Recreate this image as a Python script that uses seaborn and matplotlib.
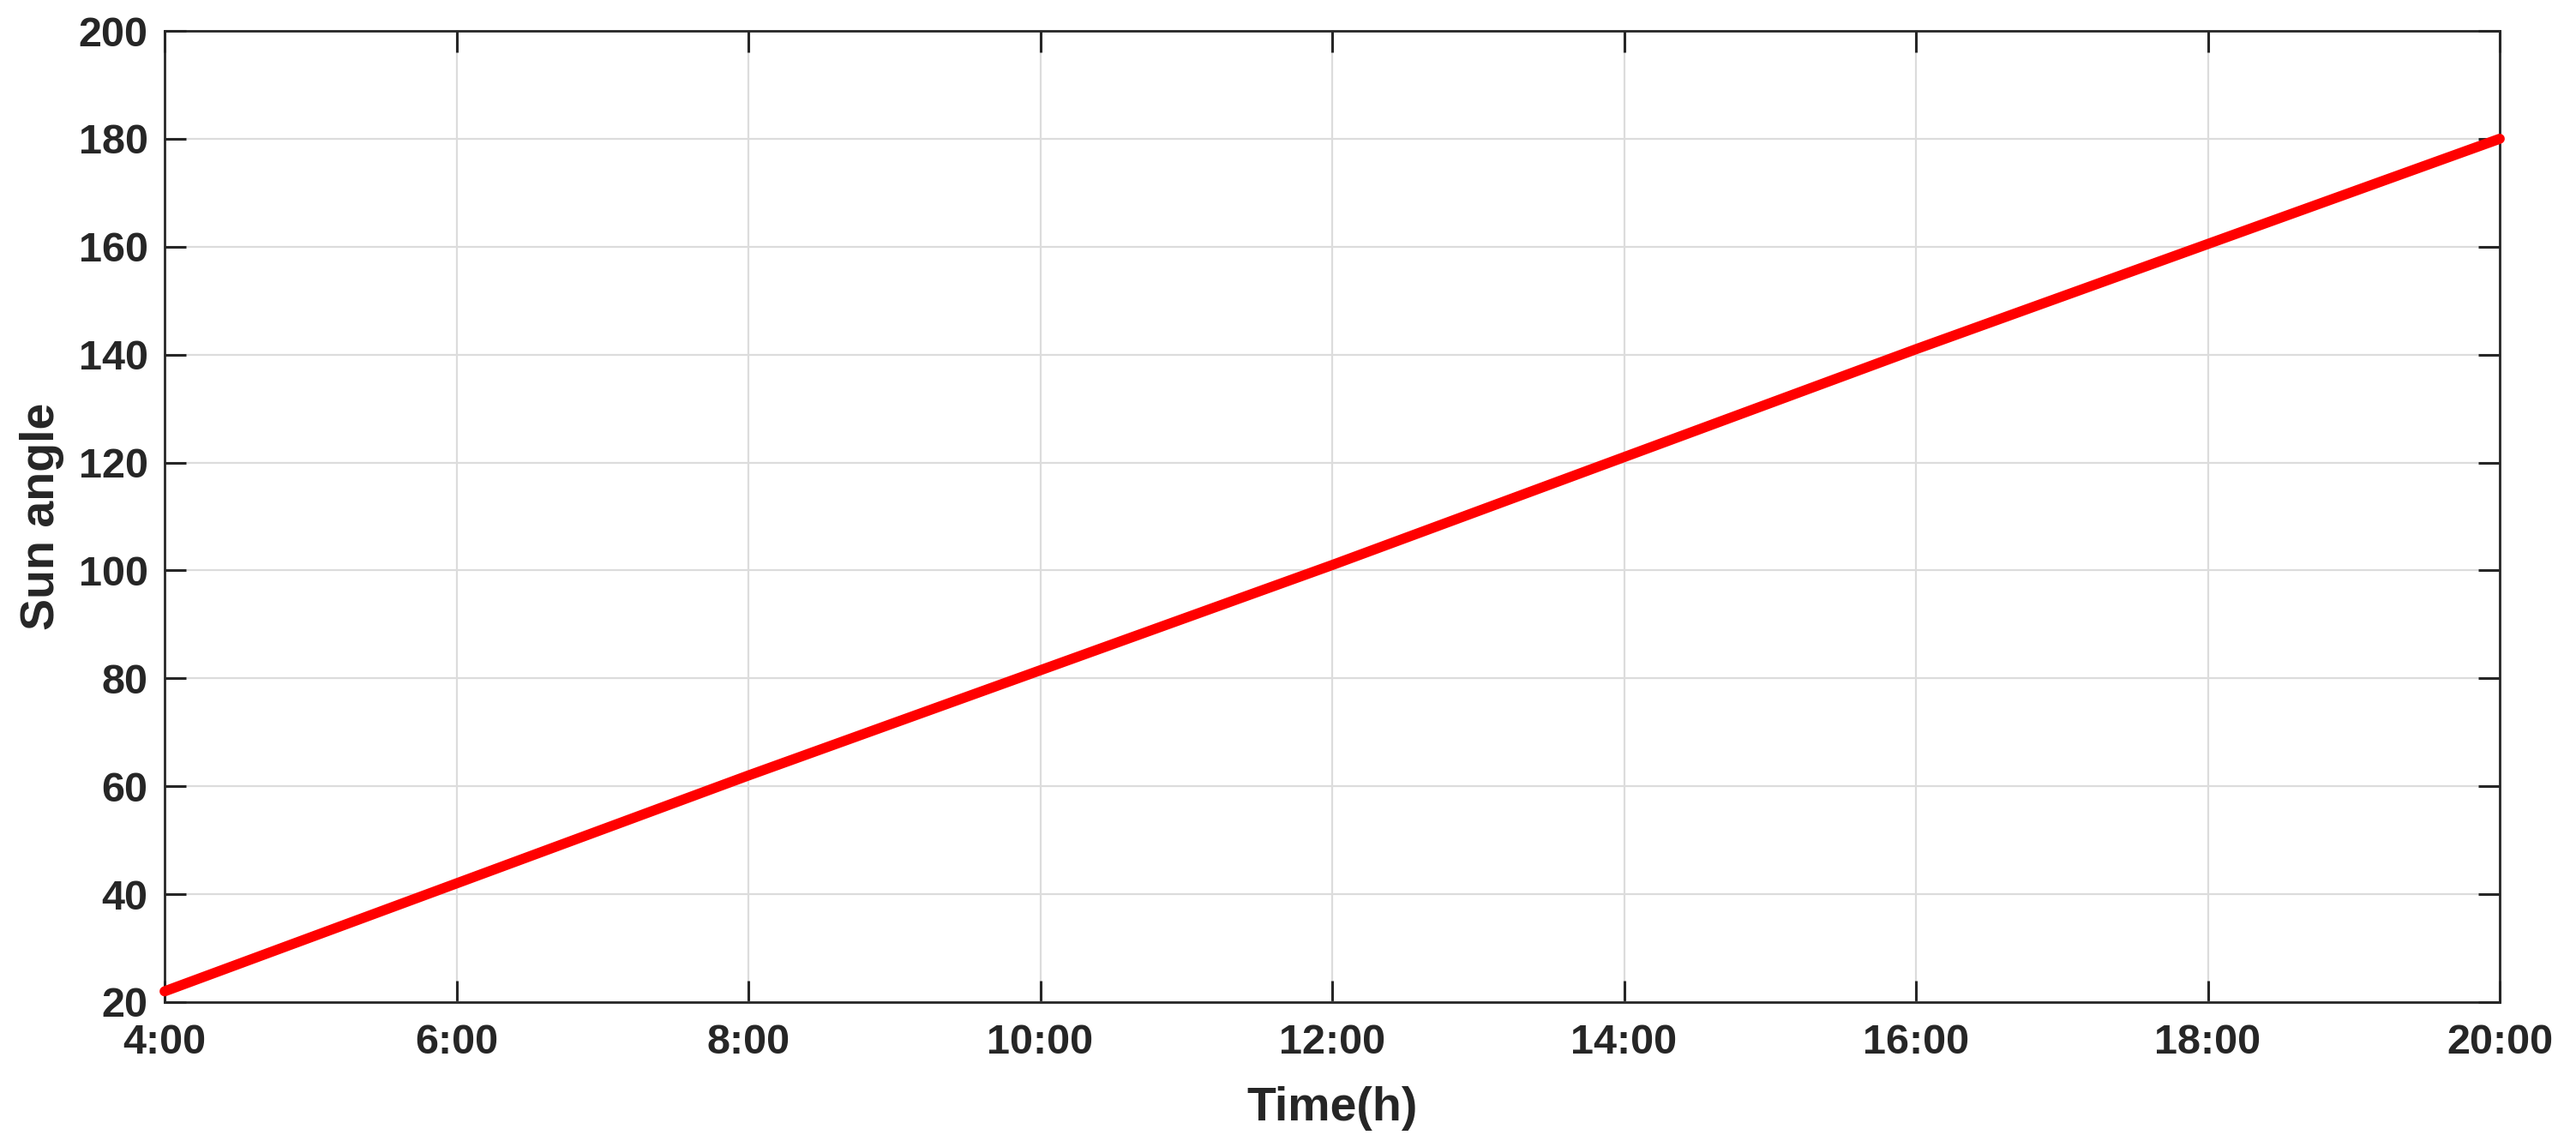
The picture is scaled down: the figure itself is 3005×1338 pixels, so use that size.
import matplotlib
matplotlib.use("Agg")
import matplotlib.pyplot as plt
import seaborn as sns
import pandas as pd
import numpy as np

hours = [4, 6, 8, 10, 12, 14, 16, 18, 20]
sun_angle = [22, 42, 62, 81.5, 101, 121, 141, 160.5, 180]
xtick_labels = ["4:00", "6:00", "8:00", "10:00", "12:00", "14:00", "16:00", "18:00", "20:00"]
yticks = [20, 40, 60, 80, 100, 120, 140, 160, 180, 200]

sns.set_theme(style="white")
plt.rcParams['font.family'] = ['Liberation Sans', 'DejaVu Sans']
plt.rcParams['font.weight'] = 'bold'

df = pd.DataFrame({"Time": hours, "Angle": sun_angle})

fig = plt.figure(figsize=(30.05, 13.38), dpi=100)
ax = fig.add_axes([192/3005, 1 - 1169/1338, (2916-192)/3005, (1169-36)/1338])
sns.lineplot(data=df, x="Time", y="Angle", ax=ax, color="#ff0000", linewidth=8.5,
             solid_capstyle="round", zorder=5, clip_on=False)

ax.set_xlim(4, 20)
ax.set_ylim(20, 200)
ax.set_xticks(hours)
ax.set_xticklabels(xtick_labels)
ax.set_yticks(yticks)
ax.grid(True, color="#dcdcdc", linewidth=1.6)
ax.set_axisbelow(True)
for s in ax.spines.values():
    s.set_color("#262626")
    s.set_linewidth(2.0)
    s.set_visible(True)
ax.tick_params(direction="in", length=18, width=2.2, color="#262626",
               labelsize=35, labelcolor="#262626", top=True, right=True,
               bottom=True, left=True)
ax.tick_params(axis="x", pad=18)
ax.tick_params(axis="y", pad=14)
for lab in ax.get_xticklabels() + ax.get_yticklabels():
    lab.set_fontweight("bold")
ax.set_xlabel("Time(h)", fontsize=40, fontweight="bold", color="#262626", labelpad=20)
ax.set_ylabel("Sun angle", fontsize=40, fontweight="bold", color="#262626", labelpad=12)

fig.savefig("out.png", dpi=100, facecolor="white")
